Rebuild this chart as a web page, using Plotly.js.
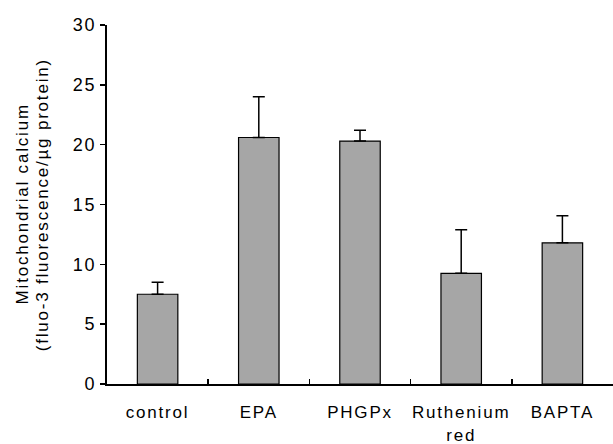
<!DOCTYPE html>
<html><head><meta charset="utf-8">
<script src="https://cdn.plot.ly/plotly-3.0.1.min.js"></script>
<style>html,body{margin:0;padding:0;background:#fff}#chart{width:613px;height:444px}
#chart text{letter-spacing:1.8px}</style>
</head><body><div id="chart"></div>
<script>
const categories = ["control", "EPA", "PHGPx", "Ruthenium<br>red", "BAPTA"];
const means = [7.5, 20.6, 20.3, 9.25, 11.8];
const errors = [1.0, 3.4, 0.9, 3.65, 2.25];
const yTicks = [0, 5, 10, 15, 20, 25, 30];
const yTitleLines = ["Mitochondrial calcium", "(fluo-3 fluorescence/µg protein)"];

const trace = {
  type: "bar",
  x: categories,
  y: means,
  width: 0.4,
  marker: {color: "#a6a6a6", line: {color: "#000", width: 1.2}},
  error_y: {type: "data", array: errors, symmetric: false, arrayminus: errors.map(() => 0),
            visible: true, color: "#000", thickness: 1.5, width: 6}
};
const W = 613, L = 107, R = 0;
const plotW = W - L - R;
const layout = {
  width: W, height: 444,
  margin: {l: L, r: R, t: 25, b: 60},
  paper_bgcolor: "#fff", plot_bgcolor: "#fff",
  showlegend: false,
  font: {family: "Liberation Sans, Arial, sans-serif", color: "#000"},
  xaxis: {
    type: "category", range: [-0.5, 4.5],
    showline: true, linecolor: "#000", linewidth: 2,
    ticks: "inside", tickson: "boundaries", ticklen: 5, tickcolor: "#000", tickwidth: 1.5,
    tickfont: {size: 17}, ticklabelstandoff: 12, showgrid: false, zeroline: false
  },
  yaxis: {
    range: [0, 30], tickvals: yTicks, ticktext: yTicks.map(String),
    showline: true, linecolor: "#000", linewidth: 2,
    ticks: "outside", ticklen: 5, tickcolor: "#000", tickwidth: 1.5,
    tickfont: {size: 18}, ticklabelstandoff: 0, showgrid: false, zeroline: false
  },
  annotations: yTitleLines.map((t, i) => ({
    text: t, textangle: -90, showarrow: false,
    xref: "paper", yref: "paper",
    x: ([22, 42][i] - L) / plotW, y: 0.5,
    xanchor: "center", yanchor: "middle",
    font: {size: 17, color: "#000"}
  }))
};
Plotly.newPlot("chart", [trace], layout, {displayModeBar: false, staticPlot: true});
</script></body></html>
